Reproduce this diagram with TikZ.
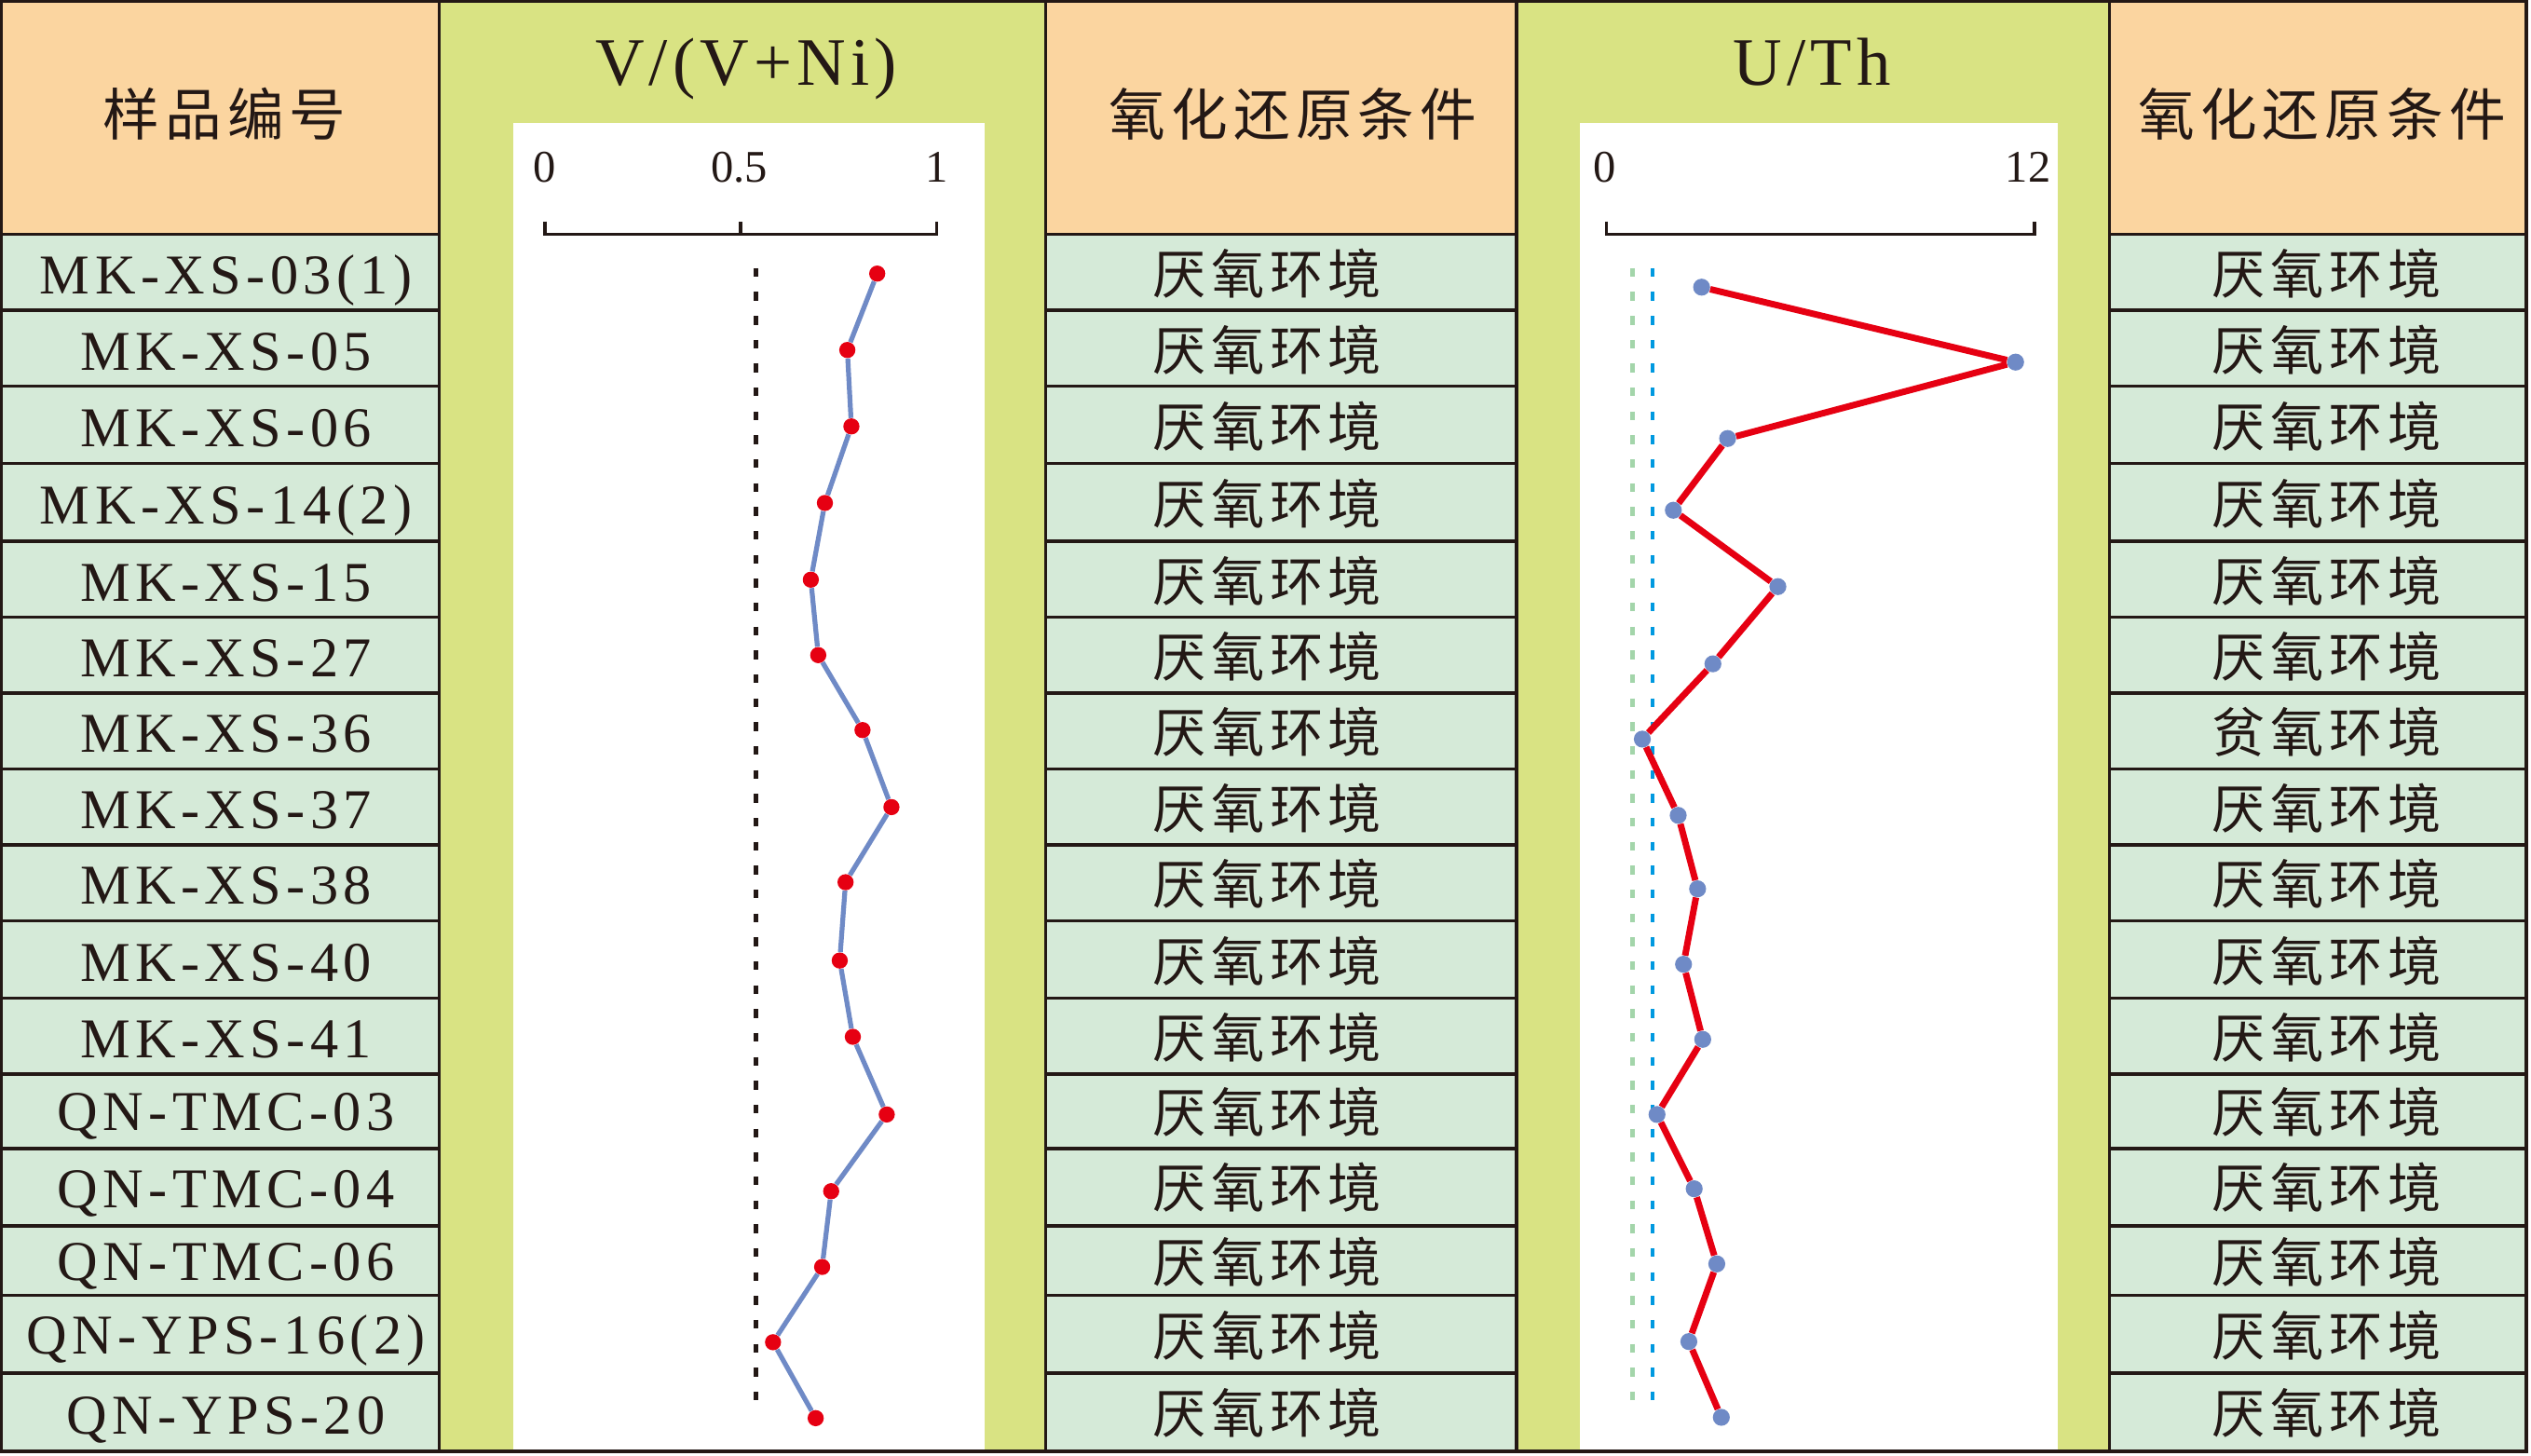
\documentclass[tikz,border=0pt]{standalone}
\usepackage{fontspec}
\usepackage{tikz}
\usepackage{color}
\setmainfont{Liberation Serif}
\newfontfamily\idfont[LetterSpace=9]{Liberation Serif}
\newfontfamily\titlefont[LetterSpace=7]{Liberation Serif}
\newfontfamily\cjkfont[LetterSpace=10]{Noto Sans CJK SC}
\definecolor{hdrorange}{RGB}{251,213,160}
\definecolor{cellgreen}{RGB}{213,234,216}
\definecolor{plotbg}{RGB}{217,227,131}
\definecolor{ptblue}{RGB}{111,138,198}
\definecolor{ptred}{RGB}{230,0,18}
\definecolor{refgreen}{RGB}{163,213,170}
\definecolor{refblue}{RGB}{0,153,224}
\definecolor{inkblack}{RGB}{35,24,21}

\begin{document}
\begin{tikzpicture}[x=1pt,y=1pt]
\tikzstyle{every node}+=[inner sep=0pt]
\tikzstyle{grid}=[inkblack, line width=2pt]
\tikzstyle{idtext}=[anchor=base, font=\idfont\fontsize{34.8}{40}\selectfont, text=inkblack]
\tikzstyle{condtext}=[anchor=base, font=\cjkfont\fontsize{33}{36}\selectfont, text=inkblack]
\tikzstyle{headtext}=[anchor=base, font=\cjkfont\fontsize{35}{38}\selectfont, text=inkblack]
\tikzstyle{titletext}=[anchor=base, font=\titlefont\fontsize{42}{46}\selectfont, text=inkblack]
\tikzstyle{ticktext}=[anchor=base, font=\fontsize{28}{32}\selectfont, text=inkblack]
\tikzstyle{vdot}=[circle, fill=ptred, minimum size=10pt]
\tikzstyle{udot}=[circle, fill=ptblue, minimum size=10.5pt]
\tikzstyle{vline}=[ptblue, line width=3pt]
\tikzstyle{uline}=[ptred, line width=4pt]
\tikzstyle{limit}=[line width=2.6pt, dash pattern=on 5.4pt off 9.4pt]
\useasboundingbox (0,0) rectangle (1567,-901);
% backgrounds
\fill [white] (0,0) rectangle (1567,-901);
\fill [hdrorange] (1,-1) rectangle (272,-145);
\fill [cellgreen] (1,-145) rectangle (272,-898.5);
\fill [plotbg] (272,-1) rectangle (647.5,-898.5);
\fill [white] (317.6,-76.3) rectangle (609.7,-898.5);
\fill [hdrorange] (647.5,-1) rectangle (939,-145);
\fill [cellgreen] (647.5,-145) rectangle (939,-898.5);
\fill [plotbg] (939,-1) rectangle (1306,-898.5);
\fill [white] (978,-76.3) rectangle (1274,-898.5);
\fill [hdrorange] (1306,-1) rectangle (1564,-145);
\fill [cellgreen] (1306,-145) rectangle (1564,-898.5);
% table lines
\draw [grid] (1,-1) rectangle (1564,-898.5);
\draw [grid] (272,-1) -- (272,-898.5);
\draw [grid] (647.5,-1) -- (647.5,-898.5);
\draw [grid] (939,-1) -- (939,-898.5);
\draw [grid] (1306,-1) -- (1306,-898.5);
\draw [grid] (1,-145) -- (272,-145) (647.5,-145) -- (939,-145) (1306,-145) -- (1564,-145);
\draw [grid] (1,-192) -- (272,-192) (647.5,-192) -- (939,-192) (1306,-192) -- (1564,-192);
\draw [grid] (1,-239) -- (272,-239) (647.5,-239) -- (939,-239) (1306,-239) -- (1564,-239);
\draw [grid] (1,-287) -- (272,-287) (647.5,-287) -- (939,-287) (1306,-287) -- (1564,-287);
\draw [grid] (1,-335) -- (272,-335) (647.5,-335) -- (939,-335) (1306,-335) -- (1564,-335);
\draw [grid] (1,-382) -- (272,-382) (647.5,-382) -- (939,-382) (1306,-382) -- (1564,-382);
\draw [grid] (1,-429) -- (272,-429) (647.5,-429) -- (939,-429) (1306,-429) -- (1564,-429);
\draw [grid] (1,-476) -- (272,-476) (647.5,-476) -- (939,-476) (1306,-476) -- (1564,-476);
\draw [grid] (1,-523) -- (272,-523) (647.5,-523) -- (939,-523) (1306,-523) -- (1564,-523);
\draw [grid] (1,-570) -- (272,-570) (647.5,-570) -- (939,-570) (1306,-570) -- (1564,-570);
\draw [grid] (1,-618) -- (272,-618) (647.5,-618) -- (939,-618) (1306,-618) -- (1564,-618);
\draw [grid] (1,-665) -- (272,-665) (647.5,-665) -- (939,-665) (1306,-665) -- (1564,-665);
\draw [grid] (1,-711) -- (272,-711) (647.5,-711) -- (939,-711) (1306,-711) -- (1564,-711);
\draw [grid] (1,-759) -- (272,-759) (647.5,-759) -- (939,-759) (1306,-759) -- (1564,-759);
\draw [grid] (1,-802) -- (272,-802) (647.5,-802) -- (939,-802) (1306,-802) -- (1564,-802);
\draw [grid] (1,-850) -- (272,-850) (647.5,-850) -- (939,-850) (1306,-850) -- (1564,-850);
% headers
\node [headtext] (hid) at (139,-84) {样品编号};
\node [titletext] (hv) at (462,-53) {V/(V+Ni)};
\node [headtext] (hc1) at (800.5,-84) {氧化还原条件};
\node [titletext] (hu) at (1122,-53) {U/Th};
\node [headtext] (hc2) at (1437.5,-84) {氧化还原条件};
% axes
\draw [inkblack, line width=1.8pt] (337.4,-137) -- (337.4,-145) -- (579.7,-145) -- (579.7,-137);
\draw [inkblack, line width=1.8pt] (458.5,-145) -- (458.5,-137);
\draw (337.4,-112.5) node [ticktext] (vt0) {0};
\draw (457.6,-112.5) node [ticktext] (vt5) {0.5};
\draw (579.7,-112.5) node [ticktext] (vt1) {1};
\draw [inkblack, line width=1.8pt] (994.7,-137) -- (994.7,-145) -- (1259.6,-145) -- (1259.6,-137);
\draw (993.4,-112.5) node [ticktext] (ut0) {0};
\draw (1255.6,-112.5) node [ticktext] (ut12) {12};
% reference lines
\draw [limit, inkblack] (468,-166) -- (468,-876);
\draw [limit, refgreen] (1010.6,-166) -- (1010.6,-876);
\draw [limit, refblue] (1023.2,-166) -- (1023.2,-876);
% sample ids
\node [idtext] (s1) at (140,-182) {MK-XS-03(1)};
\node [idtext] (s2) at (140,-229) {MK-XS-05};
\node [idtext] (s3) at (140,-276.5) {MK-XS-06};
\node [idtext] (s4) at (140,-324.5) {MK-XS-14(2)};
\node [idtext] (s5) at (140,-372) {MK-XS-15};
\node [idtext] (s6) at (140,-419) {MK-XS-27};
\node [idtext] (s7) at (140,-466) {MK-XS-36};
\node [idtext] (s8) at (140,-513) {MK-XS-37};
\node [idtext] (s9) at (140,-560) {MK-XS-38};
\node [idtext] (s10) at (140,-607.5) {MK-XS-40};
\node [idtext] (s11) at (140,-655) {MK-XS-41};
\node [idtext] (s12) at (140,-700) {QN-TMC-03};
\node [idtext] (s13) at (140,-748) {QN-TMC-04};
\node [idtext] (s14) at (140,-793) {QN-TMC-06};
\node [idtext] (s15) at (140,-838) {QN-YPS-16(2)};
\node [idtext] (s16) at (140,-888) {QN-YPS-20};
% conditions, first column
\node [condtext] (a1) at (784.5,-182) {厌氧环境};
\node [condtext] (a2) at (784.5,-229) {厌氧环境};
\node [condtext] (a3) at (784.5,-276.5) {厌氧环境};
\node [condtext] (a4) at (784.5,-324.5) {厌氧环境};
\node [condtext] (a5) at (784.5,-372) {厌氧环境};
\node [condtext] (a6) at (784.5,-419) {厌氧环境};
\node [condtext] (a7) at (784.5,-466) {厌氧环境};
\node [condtext] (a8) at (784.5,-513) {厌氧环境};
\node [condtext] (a9) at (784.5,-560) {厌氧环境};
\node [condtext] (a10) at (784.5,-607.5) {厌氧环境};
\node [condtext] (a11) at (784.5,-655) {厌氧环境};
\node [condtext] (a12) at (784.5,-701) {厌氧环境};
\node [condtext] (a13) at (784.5,-748) {厌氧环境};
\node [condtext] (a14) at (784.5,-794) {厌氧环境};
\node [condtext] (a15) at (784.5,-839.5) {厌氧环境};
\node [condtext] (a16) at (784.5,-887.5) {厌氧环境};
% conditions, second column
\node [condtext] (b1) at (1440.5,-182) {厌氧环境};
\node [condtext] (b2) at (1440.5,-229) {厌氧环境};
\node [condtext] (b3) at (1440.5,-276.5) {厌氧环境};
\node [condtext] (b4) at (1440.5,-324.5) {厌氧环境};
\node [condtext] (b5) at (1440.5,-372) {厌氧环境};
\node [condtext] (b6) at (1440.5,-419) {厌氧环境};
\node [condtext] (b7) at (1440.5,-466) {贫氧环境};
\node [condtext] (b8) at (1440.5,-513) {厌氧环境};
\node [condtext] (b9) at (1440.5,-560) {厌氧环境};
\node [condtext] (b10) at (1440.5,-607.5) {厌氧环境};
\node [condtext] (b11) at (1440.5,-655) {厌氧环境};
\node [condtext] (b12) at (1440.5,-701) {厌氧环境};
\node [condtext] (b13) at (1440.5,-748) {厌氧环境};
\node [condtext] (b14) at (1440.5,-794) {厌氧环境};
\node [condtext] (b15) at (1440.5,-839.5) {厌氧环境};
\node [condtext] (b16) at (1440.5,-887.5) {厌氧环境};
% V/(V+Ni) points
\node [vdot] (v1) at (543.1,-169.4) {};
\node [vdot] (v2) at (524.6,-216.7) {};
\node [vdot] (v3) at (527.1,-264) {};
\node [vdot] (v4) at (510.7,-311.4) {};
\node [vdot] (v5) at (502,-358.9) {};
\node [vdot] (v6) at (506.6,-405.6) {};
\node [vdot] (v7) at (534,-452) {};
\node [vdot] (v8) at (551.9,-499.7) {};
\node [vdot] (v9) at (523.5,-546.2) {};
\node [vdot] (v10) at (519.9,-594.7) {};
\node [vdot] (v11) at (528,-641.9) {};
\node [vdot] (v12) at (549,-690) {};
\node [vdot] (v13) at (514.6,-737.5) {};
\node [vdot] (v14) at (509,-784.4) {};
\node [vdot] (v15) at (478.6,-831) {};
\node [vdot] (v16) at (505,-878) {};
\draw [vline] (v1) -- (v2) -- (v3) -- (v4) -- (v5) -- (v6) -- (v7) -- (v8) -- (v9) -- (v10) -- (v11) -- (v12) -- (v13) -- (v14) -- (v15) -- (v16);
% U/Th points
\node [udot] (u1) at (1053.5,-177.8) {};
\node [udot] (u2) at (1247.9,-224.2) {};
\node [udot] (u3) at (1069.6,-271.5) {};
\node [udot] (u4) at (1036,-315.9) {};
\node [udot] (u5) at (1100.7,-363.2) {};
\node [udot] (u6) at (1060.5,-411) {};
\node [udot] (u7) at (1016.8,-457.6) {};
\node [udot] (u8) at (1039,-504.8) {};
\node [udot] (u9) at (1051,-550.3) {};
\node [udot] (u10) at (1042.3,-597) {};
\node [udot] (u11) at (1054.2,-643.5) {};
\node [udot] (u12) at (1025.9,-690) {};
\node [udot] (u13) at (1048.9,-736) {};
\node [udot] (u14) at (1062.9,-782.5) {};
\node [udot] (u15) at (1045.6,-830.6) {};
\node [udot] (u16) at (1065.7,-877.5) {};
\draw [uline] (u1) -- (u2) -- (u3) -- (u4) -- (u5) -- (u6) -- (u7) -- (u8) -- (u9) -- (u10) -- (u11) -- (u12) -- (u13) -- (u14) -- (u15) -- (u16);
\end{tikzpicture}
\end{document}
